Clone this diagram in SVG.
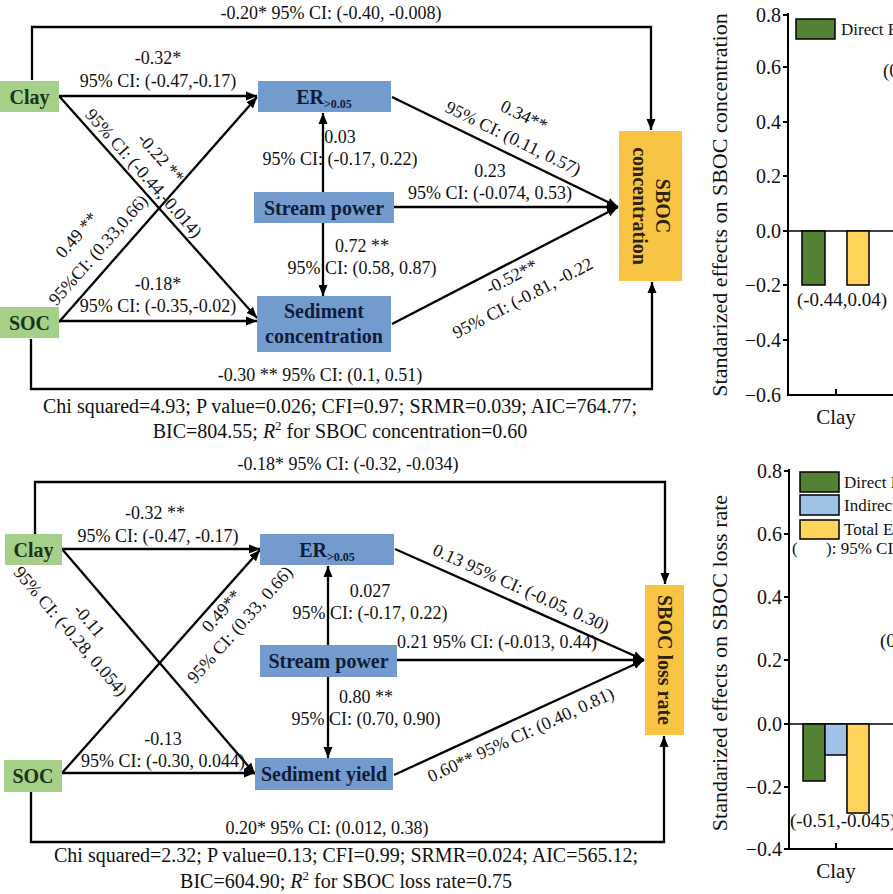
<svg xmlns="http://www.w3.org/2000/svg" width="893" height="894" viewBox="0 0 893 894">
<defs>
<style>
text{font-family:"Liberation Serif","Times New Roman",serif;fill:#111}
.lb{font-size:18px}
.ft{font-size:20px}
.nt{font-size:20px;font-weight:bold}
.ng{fill:#a6cf8a}
.nb{fill:#749bcd}
.ny{fill:#f7c443}
.tg{fill:#1b3417}
.tb{fill:#0f1d3a}
.ty{fill:#2e2208}
.ln{fill:none;stroke:#000;stroke-width:2.3}
.ax{fill:none;stroke:#000;stroke-width:2}
.tk{font-size:20px}
.bg{fill:#548235;stroke:#000;stroke-width:1.5}
.bbl{fill:#9dc3e6;stroke:#000;stroke-width:1.5}
.byl{fill:#ffd35c;stroke:#000;stroke-width:1.5}
</style>
<marker id="ah" markerUnits="userSpaceOnUse" markerWidth="12" markerHeight="10" refX="11" refY="5" orient="auto">
<path d="M0,0.5 L11,5 L0,9.5 z" fill="#000"/>
</marker>
</defs>
<rect width="893" height="894" fill="#fff"/>

<!-- ============ TOP DIAGRAM ============ -->
<g id="top-connectors">
<path class="ln" d="M32,80 V27 H651 V130" marker-end="url(#ah)"/>
<path class="ln" d="M31,339 V389 H652 V282" marker-end="url(#ah)"/>
<line class="ln" x1="59" y1="96" x2="257" y2="96" marker-end="url(#ah)"/>
<line class="ln" x1="59" y1="96" x2="257" y2="318" marker-end="url(#ah)"/>
<line class="ln" x1="59" y1="322" x2="257" y2="97" marker-end="url(#ah)"/>
<line class="ln" x1="59" y1="321" x2="257" y2="321" marker-end="url(#ah)"/>
<line class="ln" x1="392" y1="97" x2="618" y2="207" marker-end="url(#ah)"/>
<line class="ln" x1="394" y1="207" x2="618" y2="207" marker-end="url(#ah)"/>
<line class="ln" x1="392" y1="324" x2="618" y2="207" marker-end="url(#ah)"/>
<line class="ln" x1="323" y1="192" x2="323" y2="113" marker-end="url(#ah)"/>
<line class="ln" x1="323" y1="223" x2="323" y2="296" marker-end="url(#ah)"/>
</g>
<g id="top-labels">
<text class="lb" x="331" y="19" text-anchor="middle">-0.20* 95% CI: (-0.40, -0.008)</text>
<text class="lb" x="158" y="64" text-anchor="middle">-0.32*</text>
<text class="lb" x="158" y="87" text-anchor="middle">95% CI: (-0.47,-0.17)</text>
<g transform="translate(59,96) rotate(48.3)">
<text class="lb" x="114" y="-29" text-anchor="middle">-0.22 **</text>
<text class="lb" x="114" y="-6" text-anchor="middle">95% CI: (-0.44,-0.014)</text>
</g>
<g transform="translate(59,322) rotate(-48.8)">
<text class="lb" x="77" y="-38" text-anchor="middle">0.49 **</text>
<text class="lb" x="80" y="-12" text-anchor="middle">95%CI: (0.33,0.66)</text>
</g>
<text class="lb" x="158" y="290" text-anchor="middle">-0.18*</text>
<text class="lb" x="158" y="312" text-anchor="middle">95% CI: (-0.35,-0.02)</text>
<text class="lb" x="340" y="143" text-anchor="middle">0.03</text>
<text class="lb" x="340" y="165" text-anchor="middle">95% CI: (-0.17, 0.22)</text>
<text class="lb" x="490" y="177" text-anchor="middle">0.23</text>
<text class="lb" x="490" y="199" text-anchor="middle">95% CI: (-0.074, 0.53)</text>
<text class="lb" x="362" y="252" text-anchor="middle">0.72 **</text>
<text class="lb" x="362" y="274" text-anchor="middle">95% CI: (0.58, 0.87)</text>
<g transform="translate(392,97) rotate(25.95)">
<text class="lb" x="127" y="-35" text-anchor="middle">0.34**</text>
<text class="lb" x="127" y="-10" text-anchor="middle">95% CI: (0.11, 0.57)</text>
</g>
<g transform="translate(392,324) rotate(-27.4)">
<text class="lb" x="128" y="19" text-anchor="middle">-0.52**</text>
<text class="lb" x="128" y="43" text-anchor="middle">95% CI: (-0.81, -0.22</text>
</g>
<text class="lb" x="320" y="381" text-anchor="middle">-0.30 ** 95% CI: (0.1, 0.51)</text>
<text class="ft" x="340" y="413" text-anchor="middle">Chi squared=4.93; P value=0.026; CFI=0.97; SRMR=0.039; AIC=764.77;</text>
<text class="ft" x="340" y="438" text-anchor="middle">BIC=804.55; <tspan font-style="italic">R</tspan><tspan font-size="13" dy="-8">2</tspan><tspan dy="8"> for SBOC concentration=0.60</tspan></text>
</g>
<g id="t-clay"><rect class="ng" x="0" y="81" width="59" height="31"/><text class="nt tg" x="29.5" y="103.5" text-anchor="middle">Clay</text></g>
<g id="t-soc"><rect class="ng" x="0" y="307" width="59" height="31"/><text class="nt tg" x="29.5" y="329.5" text-anchor="middle">SOC</text></g>
<g id="t-er"><rect class="nb" x="258" y="81" width="133" height="31"/><text class="nt tb" x="324" y="103.5" text-anchor="middle">ER<tspan font-size="12" dy="4">&gt;0.05</tspan></text></g>
<g id="t-sp"><rect class="nb" x="254" y="192" width="140" height="31"/><text class="nt tb" x="324" y="214.5" text-anchor="middle">Stream power</text></g>
<g id="t-sed"><rect class="nb" x="257" y="296" width="134" height="56"/><text class="nt tb" x="324" y="318" text-anchor="middle">Sediment</text><text class="nt tb" x="324" y="343" text-anchor="middle">concentration</text></g>
<g id="t-sboc"><rect class="ny" x="619" y="131" width="63" height="150"/>
<g transform="translate(650.5,206) rotate(90)"><text class="nt ty" x="0" y="-5.5" text-anchor="middle">SBOC</text><text class="nt ty" x="0" y="17.5" text-anchor="middle">concentration</text></g></g>

<!-- ============ BOTTOM DIAGRAM ============ -->
<g id="bottom-connectors">
<path class="ln" d="M35,534 V482 H665 V584" marker-end="url(#ah)"/>
<path class="ln" d="M31,792 V842 H664 V736" marker-end="url(#ah)"/>
<line class="ln" x1="62" y1="549" x2="260" y2="549" marker-end="url(#ah)"/>
<line class="ln" x1="62" y1="549" x2="255" y2="774" marker-end="url(#ah)"/>
<line class="ln" x1="62" y1="773" x2="260" y2="550" marker-end="url(#ah)"/>
<line class="ln" x1="62" y1="773" x2="255" y2="773" marker-end="url(#ah)"/>
<line class="ln" x1="395" y1="549" x2="644" y2="660" marker-end="url(#ah)"/>
<line class="ln" x1="397" y1="660" x2="644" y2="660" marker-end="url(#ah)"/>
<line class="ln" x1="394" y1="775" x2="644" y2="660" marker-end="url(#ah)"/>
<line class="ln" x1="328" y1="645" x2="328" y2="566" marker-end="url(#ah)"/>
<line class="ln" x1="328" y1="677" x2="328" y2="758" marker-end="url(#ah)"/>
</g>
<g id="bottom-labels">
<text class="lb" x="348" y="470" text-anchor="middle">-0.18* 95% CI: (-0.32, -0.034)</text>
<text class="lb" x="155" y="519" text-anchor="middle">-0.32 **</text>
<text class="lb" x="158" y="542" text-anchor="middle">95% CI: (-0.47, -0.17)</text>
<g transform="translate(62,549) rotate(49.4)">
<text class="lb" x="72" y="32" text-anchor="middle">-0.11</text>
<text class="lb" x="68" y="53" text-anchor="middle">95% CI: (-0.28, 0.054)</text>
</g>
<g transform="translate(62,773) rotate(-48.5)">
<text class="lb" x="227" y="18" text-anchor="middle">0.49**</text>
<text class="lb" x="229" y="41" text-anchor="middle">95% CI: (0.33, 0.66)</text>
</g>
<text class="lb" x="163" y="745" text-anchor="middle">-0.13</text>
<text class="lb" x="163" y="767" text-anchor="middle">95% CI: (-0.30, 0.044)</text>
<text class="lb" x="370" y="597" text-anchor="middle">0.027</text>
<text class="lb" x="370" y="619" text-anchor="middle">95% CI: (-0.17, 0.22)</text>
<text class="lb" x="497" y="648" text-anchor="middle">0.21 95% CI: (-0.013, 0.44)</text>
<text class="lb" x="366" y="703" text-anchor="middle">0.80 **</text>
<text class="lb" x="366" y="725" text-anchor="middle">95% CI: (0.70, 0.90)</text>
<g transform="translate(395,549) rotate(24.1)">
<text class="lb" x="131" y="-10" text-anchor="middle">0.13 95% CI: (-0.05, 0.30)</text>
</g>
<g transform="translate(395,775) rotate(-24.7)">
<text class="lb" x="131" y="22" text-anchor="middle">0.60** 95% CI: (0.40, 0.81)</text>
</g>
<text class="lb" x="327" y="834" text-anchor="middle">0.20* 95% CI: (0.012, 0.38)</text>
<text class="ft" x="346" y="862" text-anchor="middle">Chi squared=2.32; P value=0.13; CFI=0.99; SRMR=0.024; AIC=565.12;</text>
<text class="ft" x="346" y="888" text-anchor="middle">BIC=604.90; <tspan font-style="italic">R</tspan><tspan font-size="13" dy="-8">2</tspan><tspan dy="8"> for SBOC loss rate=0.75</tspan></text>
</g>
<g id="b-clay"><rect class="ng" x="5" y="534" width="57" height="31"/><text class="nt tg" x="33.5" y="556.5" text-anchor="middle">Clay</text></g>
<g id="b-soc"><rect class="ng" x="4" y="760" width="58" height="32"/><text class="nt tg" x="33" y="783" text-anchor="middle">SOC</text></g>
<g id="b-er"><rect class="nb" x="260" y="534" width="134" height="31"/><text class="nt tb" x="327" y="556.5" text-anchor="middle">ER<tspan font-size="12" dy="4">&gt;0.05</tspan></text></g>
<g id="b-sp"><rect class="nb" x="260" y="645" width="137" height="32"/><text class="nt tb" x="328.5" y="668" text-anchor="middle">Stream power</text></g>
<g id="b-sed"><rect class="nb" x="255" y="758" width="138" height="32"/><text class="nt tb" x="324" y="781" text-anchor="middle">Sediment yield</text></g>
<g id="b-sboc"><rect class="ny" x="645" y="585" width="39" height="150"/>
<g transform="translate(664.5,660) rotate(90)"><text class="nt ty" x="0" y="7" text-anchor="middle">SBOC loss rate</text></g></g>

<!-- ============ TOP CHART ============ -->
<g id="chart-top">
<path class="ax" d="M783,15 H788 M783,67 H788 M783,122 H788 M783,176 H788 M783,231 H788 M783,285 H788 M783,340 H788 M836,389 V395"/>
<path class="ax" d="M788,13 V395 H893"/>
<line x1="788" y1="231" x2="893" y2="231" stroke="#000" stroke-width="1.6"/>
<g class="tk" text-anchor="end">
<text x="781" y="22">0.8</text><text x="781" y="74">0.6</text><text x="781" y="129">0.4</text><text x="781" y="183">0.2</text><text x="781" y="238">0.0</text><text x="781" y="292">−0.2</text><text x="781" y="347">−0.4</text><text x="781" y="402">−0.6</text>
</g>
<rect class="bg" x="802" y="231" width="23" height="54"/>
<rect class="byl" x="847" y="231" width="22" height="54"/>
<text x="842" y="306" font-size="19" text-anchor="middle">(-0.44,0.04)</text>
<text x="836" y="424" font-size="21" text-anchor="middle">Clay</text>
<rect class="bg" x="796" y="19" width="39" height="20"/>
<text x="841" y="35" font-size="17">Direct Effect</text>
<text x="883" y="77" font-size="19">(0</text>
<text transform="translate(727,205) rotate(-90)" font-size="22" text-anchor="middle">Standarized effects on  SBOC concentration</text>
</g>

<!-- ============ BOTTOM CHART ============ -->
<g id="chart-bottom">
<path class="ax" d="M784,471 H789 M784,534 H789 M784,597 H789 M784,660 H789 M784,724 H789 M784,787 H789 M784,849 H789 M836,843 V849"/>
<path class="ax" d="M789,469 V849 H893"/>
<line x1="789" y1="724" x2="893" y2="724" stroke="#000" stroke-width="1.6"/>
<g class="tk" text-anchor="end">
<text x="782" y="478">0.8</text><text x="782" y="541">0.6</text><text x="782" y="604">0.4</text><text x="782" y="667">0.2</text><text x="782" y="731">0.0</text><text x="782" y="794">−0.2</text><text x="782" y="856">−0.4</text>
</g>
<rect class="bg" x="803" y="724" width="22" height="57"/>
<rect class="bbl" x="825" y="724" width="22" height="31"/>
<rect class="byl" x="847" y="724" width="22" height="89"/>
<text x="790" y="827" font-size="19">(-0.51,-0.045)</text>
<text x="836" y="878" font-size="21" text-anchor="middle">Clay</text>
<rect class="bg" x="800" y="472" width="39" height="20"/>
<rect class="bbl" x="800" y="495" width="39" height="20"/>
<rect class="byl" x="800" y="520" width="39" height="19"/>
<text x="844" y="488" font-size="17">Direct Effect</text>
<text x="844" y="511" font-size="17">Indirect Effect</text>
<text x="844" y="535" font-size="17">Total Effect</text>
<text x="792" y="554" font-size="17">(</text>
<text x="826" y="554" font-size="17">): 95% CI</text>
<text x="880" y="647" font-size="19">(0</text>
<text transform="translate(727,663) rotate(-90)" font-size="22" text-anchor="middle">Standarized effects on SBOC loss rate</text>
</g>
</svg>
